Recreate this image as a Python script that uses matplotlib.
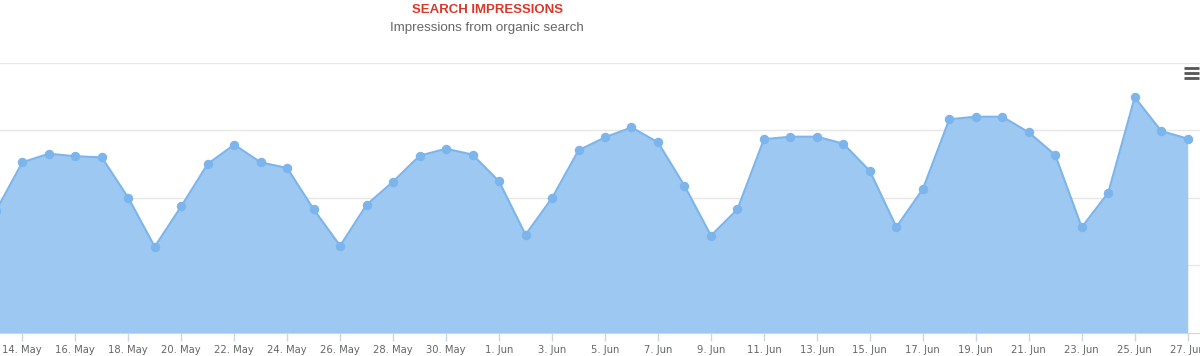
import matplotlib
matplotlib.use('Agg')
import matplotlib.pyplot as plt
import matplotlib.dates as mdates
from matplotlib.lines import Line2D
import numpy as np
import pandas as pd

# ---- data ----
impressions = [901, 1262, 1326, 1307, 1299, 1000, 637, 936, 1250, 1393,
               1262, 1220, 914, 644, 948, 1119, 1311, 1363, 1319, 1121,
               726, 998, 1351, 1447, 1521, 1410, 1089, 719, 914, 1433,
               1452, 1452, 1400, 1198, 783, 1064, 1581, 1600, 1600, 1484,
               1316, 781, 1037, 1744, 1494, 1437]
start_date = '2018-05-13'
tick_labels = ['14. May', '16. May', '18. May', '20. May', '22. May', '24. May',
               '26. May', '28. May', '30. May', '1. Jun', '3. Jun', '5. Jun',
               '7. Jun', '9. Jun', '11. Jun', '13. Jun', '15. Jun', '17. Jun',
               '19. Jun', '21. Jun', '23. Jun', '25. Jun', '27. Jun']
tick_dates = ['2018-05-14', '2018-05-16', '2018-05-18', '2018-05-20', '2018-05-22',
              '2018-05-24', '2018-05-26', '2018-05-28', '2018-05-30', '2018-06-01',
              '2018-06-03', '2018-06-05', '2018-06-07', '2018-06-09', '2018-06-11',
              '2018-06-13', '2018-06-15', '2018-06-17', '2018-06-19', '2018-06-21',
              '2018-06-23', '2018-06-25', '2018-06-27']
grid_values = [500, 1000, 1500, 2000]

title = 'SEARCH IMPRESSIONS'
subtitle = 'Impressions from organic search'

dates = pd.date_range(start_date, periods=len(impressions), freq='D')

W, H = 1200, 356
fig = plt.figure(figsize=(W / 100, H / 100), dpi=100)
ax = fig.add_axes([0, (H - 332.7) / H, 1, (332.7 - 62.7) / H])

ax.fill_between(dates, impressions, 0, color='#9dc8f1', lw=0, zorder=2)
ax.plot(dates, impressions, color='#7cb5ec', lw=1.5, marker='o', ms=5.8,
        mfc='#7cb5ec', mec='#7cb5ec', zorder=3, clip_on=True)

ax.set_ylim(0, 2000)
ax.set_yticks(grid_values)
ax.yaxis.grid(True, color='#e6e6e6', lw=1)
ax.set_axisbelow(True)
ax.tick_params(axis='y', length=0, labelleft=False)

for s in ['top', 'left', 'right']:
    ax.spines[s].set_visible(False)
ax.spines['bottom'].set_color('#ccd6eb')
ax.spines['bottom'].set_zorder(4)

ax.set_xticks(pd.to_datetime(tick_dates))
ax.set_xticklabels(tick_labels, fontsize=7.2, color='#666666', family='DejaVu Sans')
ax.tick_params(axis='x', length=6, width=1, color='#ccd6eb', pad=3)

x0 = mdates.date2num(dates[0]) + 0.158
x1 = mdates.date2num(dates[-1]) + 0.464
ax.set_xlim(x0, x1)

fig.text(487 / W, 1 - 10 / H, title, ha='center', va='center', fontsize=9.5,
         weight='bold', color='#d7392b', family='Liberation Sans')
fig.text(487 / W, 1 - 28 / H, subtitle, ha='center', va='center', fontsize=9.6,
         color='#666666', family='Liberation Sans')

# export menu icon
for yy in [68.3, 73.3, 78.0]:
    fig.add_artist(Line2D([1184 / W, 1199 / W], [1 - yy / H, 1 - yy / H],
                          transform=fig.transFigure, color='#555555', lw=2.0,
                          solid_capstyle='butt'))

fig.savefig('out.png', dpi=100)
